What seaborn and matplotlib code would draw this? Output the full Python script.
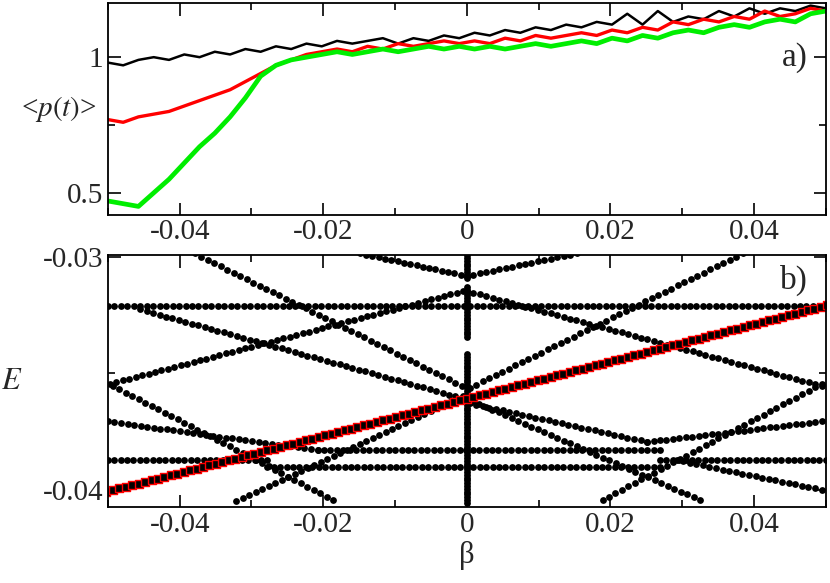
import numpy as np
import pandas as pd
import matplotlib
matplotlib.use("Agg")
import matplotlib.pyplot as plt
import seaborn as sns
from matplotlib.ticker import MultipleLocator

# ── Panel a) : <p(t)> vs beta ─────────────────────────────────────────────────
P_BLACK = [0.98, 0.97, 0.99, 1.00, 0.99, 1.01, 1.00, 1.02,
           1.01, 1.03, 1.02, 1.04, 1.03, 1.05, 1.04, 1.06,
           1.05, 1.06, 1.07, 1.05, 1.07, 1.06, 1.08, 1.07,
           1.09, 1.08, 1.10, 1.09, 1.11, 1.10, 1.12, 1.11,
           1.13, 1.12, 1.16, 1.12, 1.17, 1.13, 1.15, 1.14,
           1.17, 1.15, 1.18, 1.16, 1.18, 1.17, 1.19, 1.18]
P_RED = [0.77, 0.76, 0.78, 0.79, 0.80, 0.82, 0.84, 0.86,
         0.88, 0.91, 0.94, 0.97, 0.99, 1.01, 1.02, 1.03,
         1.02, 1.04, 1.03, 1.05, 1.04, 1.05, 1.06, 1.05,
         1.06, 1.05, 1.07, 1.06, 1.08, 1.07, 1.08, 1.09,
         1.08, 1.10, 1.09, 1.11, 1.10, 1.13, 1.12, 1.14,
         1.13, 1.15, 1.14, 1.17, 1.15, 1.16, 1.18, 1.17]
P_GREEN = [0.47, 0.46, 0.45, 0.50, 0.55, 0.61, 0.67, 0.72,
           0.78, 0.85, 0.93, 0.97, 0.99, 1.00, 1.01, 1.02,
           1.01, 1.02, 1.03, 1.02, 1.03, 1.04, 1.03, 1.04,
           1.03, 1.04, 1.03, 1.04, 1.05, 1.04, 1.05, 1.06,
           1.05, 1.07, 1.06, 1.08, 1.07, 1.09, 1.10, 1.09,
           1.11, 1.12, 1.11, 1.13, 1.14, 1.13, 1.16, 1.17]
BETA_A = np.linspace(-0.05, 0.05, len(P_BLACK))

# ── Panel b) : energy levels, straight segments (beta0, E0, beta1, E1) ────────
LEVELS = [
    (-0.0500, -0.03214, 0.0500, -0.03214),
    (-0.0379, -0.02987, -0.0007, -0.03555),
    (-0.0149, -0.02987, 0.0000, -0.03083),
    (-0.0455, -0.03227, -0.0007, -0.03607),
    (-0.0497, -0.03546, -0.0005, -0.03148),
    (-0.0493, -0.03555, -0.0186, -0.04044),
    (-0.0321, -0.04048, -0.0005, -0.03598),
    (-0.0500, -0.03707, -0.0208, -0.03830),
    (-0.0208, -0.03830, 0.0269, -0.03830),
    (-0.0500, -0.03873, -0.0278, -0.03873),
    (-0.0278, -0.03904, 0.0269, -0.03904),
    (0.0269, -0.03873, 0.0500, -0.03873),
    (0.0000, -0.03083, 0.0153, -0.02987),
    (0.0000, -0.03148, 0.0494, -0.03555),
    (0.0004, -0.03563, 0.0384, -0.02987),
    (0.0008, -0.03620, 0.0325, -0.04044),
    (0.0189, -0.04044, 0.0494, -0.03546),
    (0.0004, -0.03629, 0.0251, -0.03795),
    (0.0251, -0.03795, 0.0494, -0.03707),
    (0.0292, -0.03873, 0.0494, -0.04000),
]
# the level followed in a), drawn with red squares
TRACKED = (-0.0502, -0.04009, 0.0502, -0.03210)
# dots piled up at beta = 0 (E ranges)
VERTICAL = [(-0.0297, -0.0310), (-0.0313, -0.0335), (-0.0342, -0.0406)]
BETA_STEP = 0.0009


def sample(seg):
    b0, e0, b1, e1 = seg
    n = max(2, int(round(abs(b1 - b0) / BETA_STEP)) + 1)
    b = np.linspace(b0, b1, n)
    return b, e0 + (e1 - e0) * (b - b0) / (b1 - b0)


pts = [sample(s) for s in LEVELS]
dots = pd.DataFrame({"beta": np.concatenate([p[0] for p in pts]),
                     "E": np.concatenate([p[1] for p in pts])})
vert_E = np.concatenate([np.arange(hi, lo, -0.00012) for hi, lo in VERTICAL])
vert = pd.DataFrame({"beta": np.zeros_like(vert_E), "E": vert_E})
tb, te = sample(TRACKED)
tracked = pd.DataFrame({"beta": tb, "E": te})

sns.set_theme(style="ticks")
plt.rcParams["font.family"] = ["Liberation Serif", "DejaVu Serif"]
plt.rcParams["mathtext.fontset"] = "stix"

fig = plt.figure(figsize=(8.3, 5.83), dpi=100)
ax1 = fig.add_axes([0.130, 0.632, 0.865, 0.363])
ax2 = fig.add_axes([0.130, 0.130, 0.865, 0.432])

sns.lineplot(x=BETA_A, y=P_BLACK, color="black", lw=1.8, ax=ax1)
sns.lineplot(x=BETA_A, y=P_RED, color="#ff0000", lw=2.4, ax=ax1)
sns.lineplot(x=BETA_A, y=P_GREEN, color="#00ee00", lw=3.4, ax=ax1)
ax1.set_xlim(-0.05, 0.05)
ax1.set_ylim(0.42, 1.2)
ax1.yaxis.set_minor_locator(MultipleLocator(0.25))
ax1.set_yticks([0.5, 1])
ax1.set_yticklabels(["0.5", "1"])
ax1.set_ylabel("<$p(t)$>", fontsize=21, rotation=0, labelpad=6, va="center")
ax1.text(0.975, 0.74, "a)", transform=ax1.transAxes, ha="right", va="center", fontsize=24)

sns.scatterplot(data=dots, x="beta", y="E", color="black", s=24, linewidth=0, ax=ax2)
sns.scatterplot(data=vert, x="beta", y="E", color="black", s=24, linewidth=0, ax=ax2)
sns.scatterplot(data=tracked, x="beta", y="E", marker="s", color="black",
                edgecolor="red", s=30, linewidth=1.0, ax=ax2)
ax2.set_xlim(-0.05, 0.05)
ax2.set_ylim(-0.04075, -0.02995)
ax2.set_yticks([-0.04, -0.03])
ax2.set_yticklabels(["-0.04", "-0.03"])
ax2.yaxis.set_minor_locator(MultipleLocator(0.005))
ax2.set_ylabel("$E$", fontsize=22, rotation=0, labelpad=22, va="center")
ax2.set_xlabel("β", fontsize=22, labelpad=2)
ax2.text(0.975, 0.9, "b)", transform=ax2.transAxes, ha="right", va="center", fontsize=24)

for ax in (ax1, ax2):
    ax.set_xticks([-0.04, -0.02, 0, 0.02, 0.04])
    ax.set_xticklabels(["-0.04", "-0.02", "0", "0.02", "0.04"])
    ax.xaxis.set_minor_locator(MultipleLocator(0.01))
    ax.tick_params(which="both", direction="in", top=True, right=True,
                   labelsize=21, width=1.2, color="black")
    ax.tick_params(which="major", length=9)
    ax.tick_params(which="minor", length=5)
    for sp in ax.spines.values():
        sp.set_linewidth(1.3)
        sp.set_color("black")
ax1.set_xlabel("")

fig.savefig("out.png", dpi=100)
